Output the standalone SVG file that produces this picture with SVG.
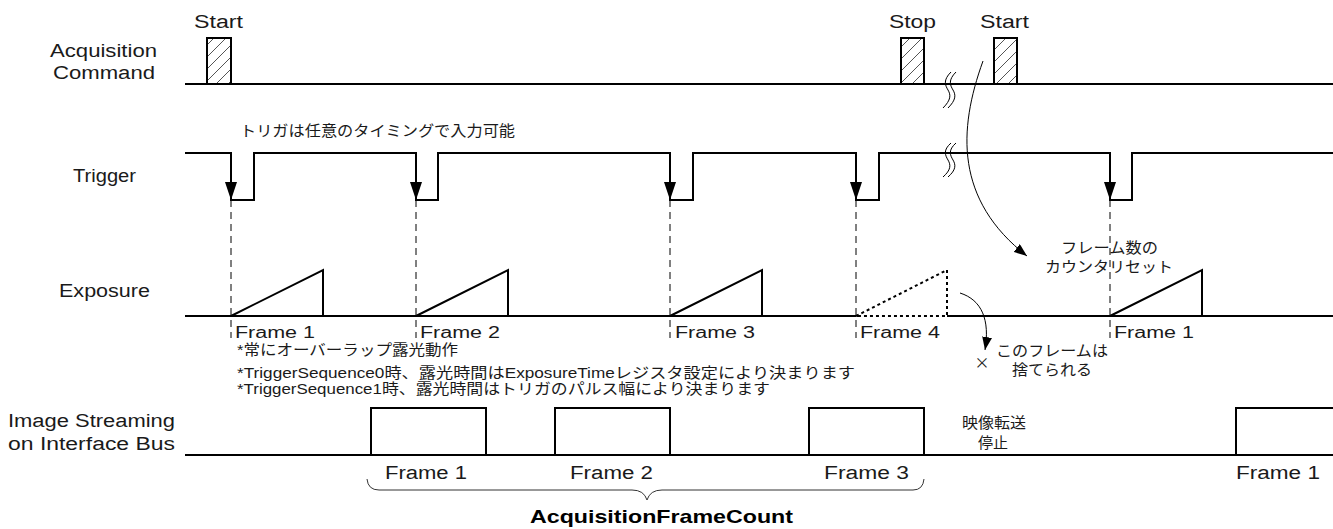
<svg xmlns="http://www.w3.org/2000/svg" width="1333" height="529" viewBox="0 0 1333 529">
<style>
.t{font-family:"Liberation Sans","Noto Sans CJK JP",sans-serif;font-size:18px;fill:#1a1a1a}
.f{font-family:"Liberation Sans",sans-serif;font-size:16px;fill:#1a1a1a}
.n{font-family:"Liberation Sans","Noto Sans CJK JP",sans-serif;font-size:15px;fill:#1a1a1a}
.j{font-family:"Noto Sans CJK JP",sans-serif;font-size:15px;fill:#1a1a1a}
.b{font-family:"Liberation Sans",sans-serif;font-size:19px;font-weight:bold;fill:#000}
.sig{fill:none;stroke:#000;stroke-width:2}
.dash{fill:none;stroke:#000;stroke-width:1;stroke-dasharray:7,5}
.dot{fill:none;stroke:#000;stroke-width:2;stroke-dasharray:3,3}
.thin{fill:none;stroke:#000;stroke-width:1}
.box{fill:url(#hatch);stroke:#000;stroke-width:2}
.sbox{fill:#fff;stroke:#000;stroke-width:2}
.head{fill:#000}
</style>
<defs>
<pattern id="hatch" patternUnits="userSpaceOnUse" width="12" height="12">
<path d="M-3,3 L3,-3 M0,12 L12,0 M9,15 L15,9" stroke="#555" stroke-width="1"/>
</pattern>
<marker id="arr" markerUnits="userSpaceOnUse" markerWidth="14" markerHeight="10" refX="13" refY="5" orient="auto">
<path d="M0,0 L13,5 L0,10 z" fill="#000"/>
</marker>
</defs>
<rect width="1333" height="529" fill="#fff"/>

<g id="row-labels">
<text class="t" x="50" y="57" textLength="107" lengthAdjust="spacingAndGlyphs">Acquisition</text>
<text class="t" x="53" y="79" textLength="102" lengthAdjust="spacingAndGlyphs">Command</text>
<text class="t" x="73" y="182" textLength="63" lengthAdjust="spacingAndGlyphs">Trigger</text>
<text class="t" x="59" y="297" textLength="91" lengthAdjust="spacingAndGlyphs">Exposure</text>
<text class="t" x="8" y="427" textLength="167" lengthAdjust="spacingAndGlyphs">Image Streaming</text>
<text class="t" x="8" y="450" textLength="167" lengthAdjust="spacingAndGlyphs">on Interface Bus</text>
</g>

<g id="acquisition-command">
<path class="sig" d="M185,84 H1333"/>
<rect class="box" x="207" y="38" width="24" height="46"/>
<rect class="box" x="901" y="38" width="23" height="46"/>
<rect class="box" x="994" y="38" width="23" height="46"/>
<text class="t" x="194" y="28" textLength="49" lengthAdjust="spacingAndGlyphs">Start</text>
<text class="t" x="889" y="28" textLength="47" lengthAdjust="spacingAndGlyphs">Stop</text>
<text class="t" x="980" y="28" textLength="49" lengthAdjust="spacingAndGlyphs">Start</text>
<path class="thin" d="M951,72 C943,80 945,85 948,90 S951,100 943,108"/>
<path class="thin" d="M956,72 C948,80 950,85 953,90 S956,100 948,108"/>
</g>

<g id="trigger">
<path class="sig" d="M185,153 H231 V200 H254 V153 H416 V200 H438 V153 H670 V200 H693 V153 H856 V200 H879 V153 H1110 V200 H1132 V153 H1333"/>
<path class="head" d="M225,182 L237,182 L231,200 z"/>
<path class="head" d="M410,182 L422,182 L416,200 z"/>
<path class="head" d="M664,182 L676,182 L670,200 z"/>
<path class="head" d="M850,182 L862,182 L856,200 z"/>
<path class="head" d="M1104,182 L1116,182 L1110,200 z"/>
<path class="thin" d="M951,143 C943,150 945,155 948,160 S951,170 943,177"/>
<path class="thin" d="M956,143 C948,150 950,155 953,160 S956,170 948,177"/>
<text class="j" x="240" y="136" textLength="275" lengthAdjust="spacingAndGlyphs">トリガは任意のタイミングで入力可能</text>
</g>

<g id="exposure">
<path class="sig" d="M185,316 H856 M947,316 H1333"/>
<path class="sig" d="M231,316 L323,270 V316"/>
<path class="sig" d="M416,316 L508,270 V316"/>
<path class="sig" d="M670,316 L762,270 V316"/>
<path class="dot" d="M856,316 L947,270 V316 H856"/>
<path class="sig" d="M1110,316 L1202,270 V316"/>
<text class="f" x="235" y="338" textLength="80" lengthAdjust="spacingAndGlyphs">Frame 1</text>
<text class="f" x="420" y="338" textLength="80" lengthAdjust="spacingAndGlyphs">Frame 2</text>
<text class="f" x="675" y="338" textLength="80" lengthAdjust="spacingAndGlyphs">Frame 3</text>
<text class="f" x="860" y="338" textLength="80" lengthAdjust="spacingAndGlyphs">Frame 4</text>
<text class="f" x="1114" y="338" textLength="80" lengthAdjust="spacingAndGlyphs">Frame 1</text>
</g>

<g id="notes">
<text class="n" x="237" y="355" textLength="221" lengthAdjust="spacingAndGlyphs">*常にオーバーラップ露光動作</text>
<text class="n" x="237" y="378" textLength="618" lengthAdjust="spacingAndGlyphs">*TriggerSequence0時、露光時間はExposureTimeレジスタ設定により決まります</text>
<text class="n" x="237" y="394" textLength="533" lengthAdjust="spacingAndGlyphs">*TriggerSequence1時、露光時間はトリガのパルス幅により決まります</text>
</g>

<g id="counter-reset">
<text class="j" x="1061" y="253" textLength="97" lengthAdjust="spacingAndGlyphs">フレーム数の</text>
<text class="j" x="1045" y="272" textLength="128" lengthAdjust="spacingAndGlyphs">カウンタリセット</text>
</g>

<g id="discard">
<text class="j" x="982" y="368" text-anchor="middle" font-size="18">×</text>
<text class="j" x="996" y="356" textLength="112" lengthAdjust="spacingAndGlyphs">このフレームは</text>
<text class="j" x="1012" y="375" textLength="80" lengthAdjust="spacingAndGlyphs">捨てられる</text>
</g>

<g id="image-streaming">
<path class="sig" d="M185,455 H1333"/>
<rect class="sbox" x="371" y="408" width="115" height="47"/>
<rect class="sbox" x="555" y="408" width="115" height="47"/>
<rect class="sbox" x="809" y="408" width="115" height="47"/>
<rect class="sbox" x="1236" y="408" width="110" height="47"/>
<text class="t" x="385" y="479" textLength="82" lengthAdjust="spacingAndGlyphs">Frame 1</text>
<text class="t" x="570" y="479" textLength="83" lengthAdjust="spacingAndGlyphs">Frame 2</text>
<text class="t" x="824" y="479" textLength="85" lengthAdjust="spacingAndGlyphs">Frame 3</text>
<text class="t" x="1236" y="479" textLength="84" lengthAdjust="spacingAndGlyphs">Frame 1</text>
<text class="j" x="962" y="428" textLength="64" lengthAdjust="spacingAndGlyphs">映像転送</text>
<text class="j" x="993" y="448" text-anchor="middle">停止</text>
</g>

<g id="frame-count">
<text class="b" x="530" y="523" textLength="263" lengthAdjust="spacingAndGlyphs">AcquisitionFrameCount</text>
</g>

<g id="connectors">
<path class="dash" d="M231,200 V338 M416,200 V338 M670,200 V338 M856,200 V338 M1110,200 V338"/>
<path class="thin" d="M983,61 C958,130 955,200 1027,256" marker-end="url(#arr)"/>
<path class="thin" d="M960,293 C982,300 990,320 985,350" marker-end="url(#arr)"/>
<path fill="none" stroke="#333" stroke-width="1" d="M367,479 Q368,490 379,490 L632,490 Q644,490 647,500 Q650,490 662,490 L913,490 Q923,490 924,479"/>
</g>
</svg>
